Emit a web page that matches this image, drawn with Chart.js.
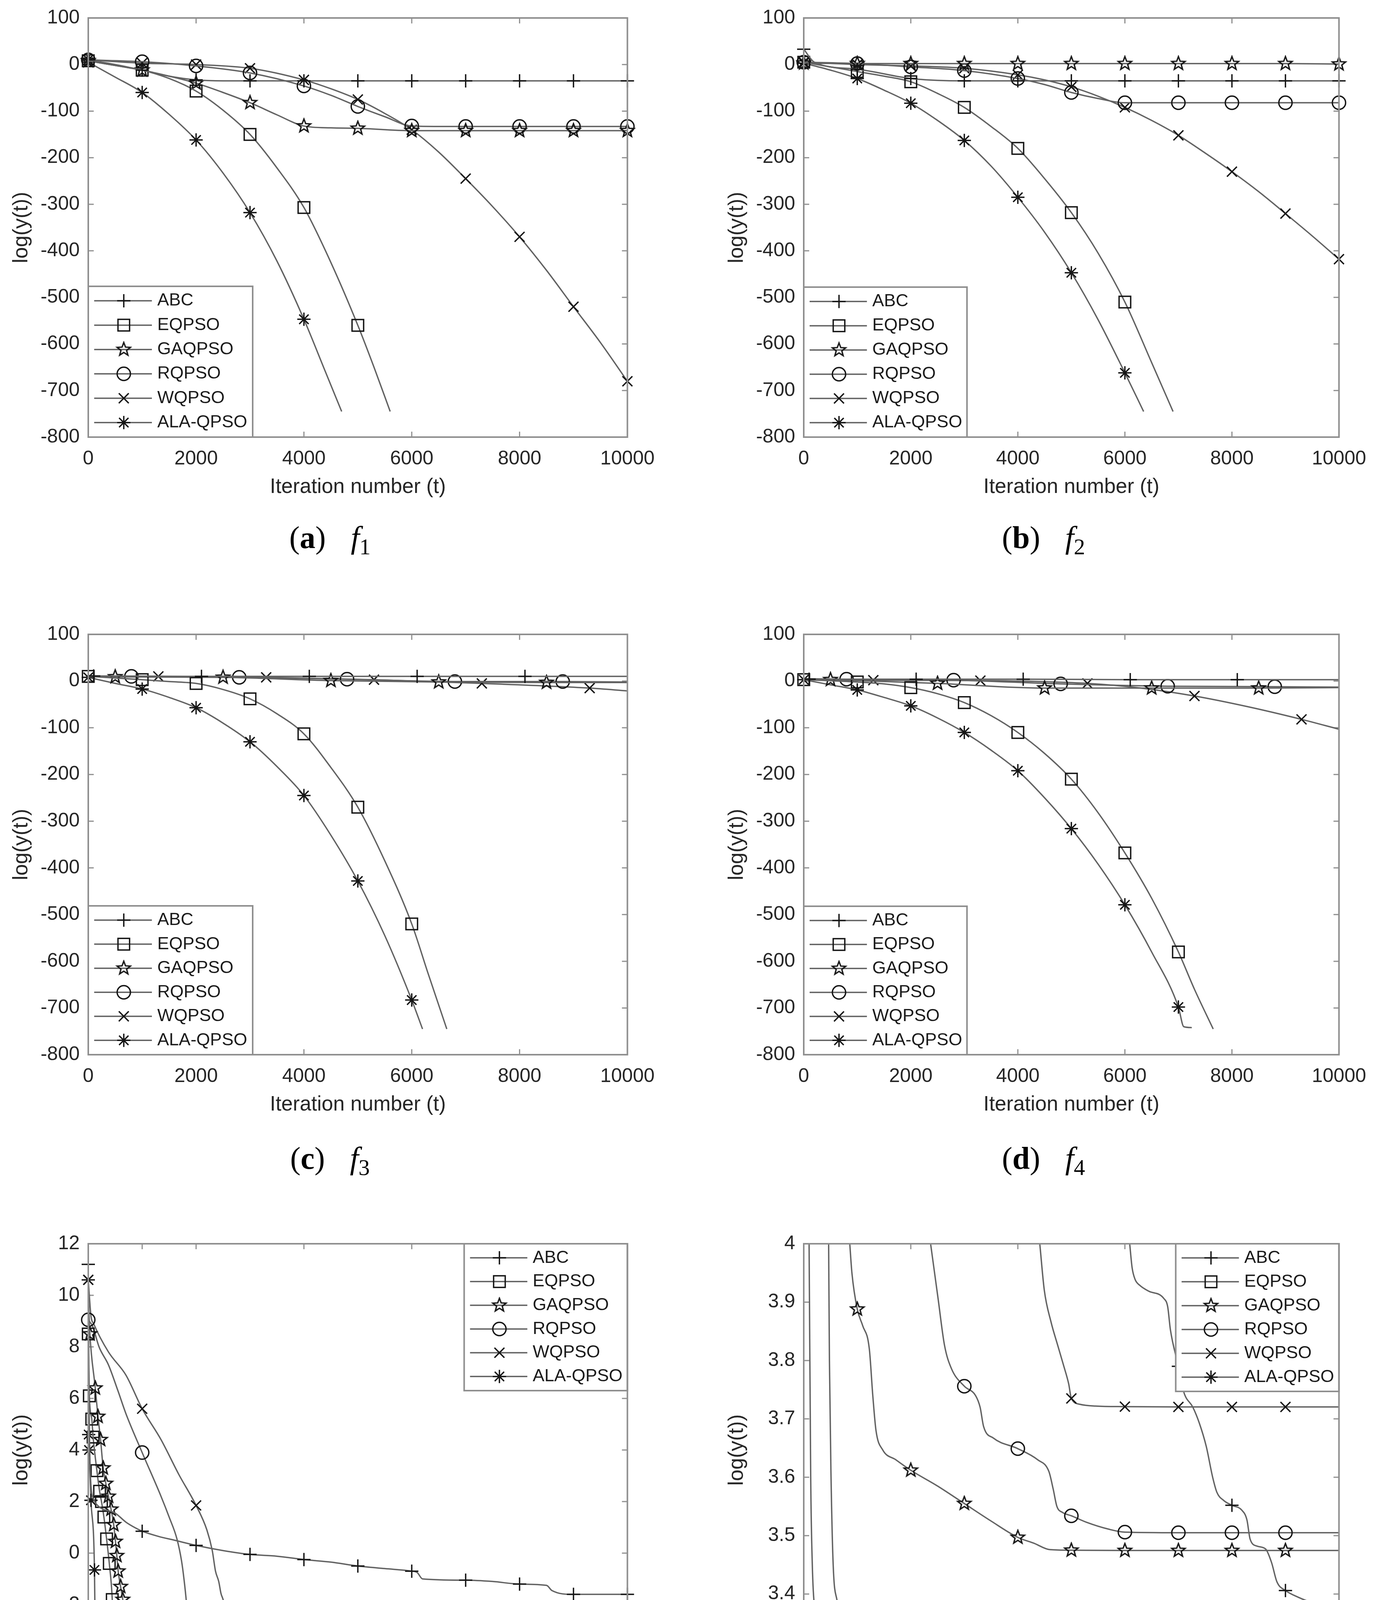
<!DOCTYPE html>
<html>
<head>
<meta charset="utf-8">
<script src="https://cdn.jsdelivr.net/npm/chart.js@4.4.1/dist/chart.umd.min.js"></script>
<style>
  html, body { margin: 0; padding: 0; background: #fff; }
  #page { position: relative; width: 3554px; height: 4619px; overflow: hidden; background: #fff; }
  #page canvas { position: absolute; }
  .cap { position: absolute; font-family: "Liberation Serif", "Times New Roman", serif; font-size: 80px;
         line-height: 80px; white-space: nowrap; color: #000; transform: translateX(-50%); }
  .cap i { margin-left: 0.8em; }
  .cap sub { font-size: 0.72em; vertical-align: -0.28em; line-height: 0; }
</style>
</head>
<body>
<div id="page"></div>
<script>
// ---- data ----
const seriesNames = ['ABC', 'EQPSO', 'GAQPSO', 'RQPSO', 'WQPSO', 'ALA-QPSO'];
const xTicksMain = [0, 2000, 4000, 6000, 8000, 10000];
const xTicksF5 = [0, 1000, 2000, 4000, 6000, 8000, 10000];
const yTicksWide = [-800, -700, -600, -500, -400, -300, -200, -100, 0, 100];
const yTicksF5 = [-4, -2, 0, 2, 4, 6, 8, 10, 12];
const yTicksF6 = [3.3, 3.4, 3.5, 3.6, 3.7, 3.8, 3.9, 4.0];

// marker positions (iteration numbers)
const mk1000 = [0, 1000, 2000, 3000, 4000, 5000, 6000, 7000, 8000, 9000, 10000];
const mkOff100 = [100, 2100, 4100, 6100, 8100];
const mkOff500 = [500, 2500, 4500, 6500, 8500];
const mkOff800 = [800, 2800, 4800, 6800, 8800];
const mkOff1300 = [1300, 3300, 5300, 7300, 9300];

// f1
const f1ABC = [[0,10],[500,0],[1000,-12],[1500,-25],[2000,-33],[2500,-35],[3000,-35],[4000,-35],[5000,-35],[6000,-35],[7000,-35],[8000,-35],[9000,-35],[10000,-35]];
const f1EQPSO = [[0,8],[500,-2],[1000,-12],[1500,-30],[2000,-57],[2500,-98],[3000,-150],[3500,-222],[4000,-307],[4500,-425],[5000,-560],[5300,-650],[5600,-745]];
const f1GAQPSO = [[0,8],[500,-2],[1000,-12],[1500,-25],[2000,-40],[2500,-60],[3000,-82],[3500,-108],[4000,-132],[4500,-136],[5000,-137],[6000,-142],[7000,-142],[8000,-142],[9000,-142],[10000,-142]];
const f1RQPSO = [[0,10],[1000,6],[2000,-3],[3000,-18],[4000,-46],[4500,-66],[5000,-90],[5500,-112],[6000,-132],[6500,-133],[7000,-133],[8000,-133],[9000,-133],[10000,-133]];
const f1WQPSO = [[0,10],[1000,3],[2000,0],[3000,-8],[4000,-33],[4500,-52],[5000,-75],[5500,-105],[6000,-140],[6500,-188],[7000,-245],[7500,-305],[8000,-370],[8500,-442],[9000,-520],[9500,-597],[10000,-680]];
const f1ALA = [[0,5],[500,-27],[1000,-60],[1500,-107],[2000,-162],[2500,-233],[3000,-318],[3500,-422],[4000,-547],[4400,-660],[4700,-745]];

// f2
const f2ABC = [[0,33],[200,5],[1000,-10],[2000,-30],[2500,-34],[3000,-35],[4000,-35],[5000,-35],[6000,-35],[7000,-35],[8000,-35],[9000,-35],[10000,-35]];
const f2EQPSO = [[0,5],[500,-5],[1000,-15],[1500,-25],[2000,-37],[2500,-62],[3000,-92],[3500,-133],[4000,-180],[4500,-245],[5000,-318],[5500,-405],[6000,-510],[6500,-640],[6900,-745]];
const f2GAQPSO = [[0,3],[1000,2],[2000,2],[3000,2],[4000,2],[5000,2],[6000,2],[7000,2],[8000,2],[9000,2],[10000,1]];
const f2RQPSO = [[0,5],[1000,2],[2000,-5],[3000,-13],[4000,-30],[4500,-43],[5000,-60],[5500,-73],[6000,-82],[7000,-82],[8000,-82],[9000,-82],[10000,-82]];
const f2WQPSO = [[0,5],[1000,0],[2000,-3],[3000,-8],[4000,-22],[4500,-33],[5000,-48],[5500,-68],[6000,-92],[6500,-120],[7000,-152],[7500,-190],[8000,-230],[8500,-273],[9000,-320],[9500,-368],[10000,-418]];
const f2ALA = [[0,3],[500,-12],[1000,-30],[1500,-55],[2000,-83],[2500,-120],[3000,-163],[3500,-218],[4000,-285],[4500,-360],[5000,-447],[5500,-548],[6000,-662],[6350,-745]];

// f3
const f3ABC = [[0,12],[100,11],[2100,10],[4100,10],[6100,10],[8100,10],[10000,10]];
const f3EQPSO = [[0,10],[1000,3],[1500,-1],[2000,-5],[2500,-18],[3000,-38],[3500,-70],[4000,-113],[4500,-185],[5000,-270],[5500,-385],[6000,-520],[6300,-625],[6650,-745]];
const f3GAQPSO = [[0,10],[500,9],[2500,8],[4500,1],[6500,-2],[8500,-3],[10000,-3]];
const f3RQPSO = [[0,10],[800,10],[2800,8],[4800,4],[6800,-1],[8800,-1],[10000,-2]];
const f3WQPSO = [[0,10],[1300,10],[3300,8],[5300,3],[7300,-5],[9300,-15],[10000,-21]];
const f3ALA = [[0,8],[500,-5],[1000,-17],[1500,-35],[2000,-57],[2500,-90],[3000,-130],[3500,-183],[4000,-245],[4500,-330],[5000,-428],[5500,-545],[6000,-683],[6200,-745]];

// f4
const f4ABC = [[0,5],[100,4],[2100,4],[4100,4],[6100,3],[8100,3],[10000,3]];
const f4EQPSO = [[0,3],[1000,-2],[1500,-6],[2000,-14],[2500,-27],[3000,-46],[3500,-74],[4000,-110],[4500,-155],[5000,-210],[5500,-282],[6000,-368],[6500,-465],[7000,-580],[7300,-660],[7650,-745]];
const f4GAQPSO = [[0,5],[500,3],[2500,-5],[4500,-15],[6500,-15],[8500,-15],[10000,-14]];
const f4RQPSO = [[0,5],[800,4],[2800,2],[4800,-6],[6800,-11],[8800,-12],[10000,-13]];
const f4WQPSO = [[0,5],[1300,2],[3300,1],[5300,-5],[6300,-15],[7300,-32],[8300,-55],[9300,-82],[10000,-103]];
const f4ALA = [[0,3],[500,-8],[1000,-19],[1500,-35],[2000,-53],[2500,-79],[3000,-110],[3500,-148],[4000,-192],[4500,-250],[5000,-316],[5500,-392],[6000,-479],[6500,-580],[7000,-698],[7100,-740],[7250,-742]];

// f5
const f5ABC = [[0,11.2],[15,6],[40,3],[100,2.1],[200,1.8],[500,1.55],[700,1.2],[900,0.95],[1000,0.85],[1300,0.65],[1600,0.5],[2000,0.3],[2500,0.1],[3000,-0.05],[3500,-0.12],[4000,-0.25],[4500,-0.35],[5000,-0.5],[5500,-0.6],[6000,-0.7],[6100,-0.75],[6200,-1.0],[7000,-1.05],[7500,-1.1],[8000,-1.2],[8500,-1.25],[8600,-1.45],[9000,-1.6],[10000,-1.6]];
const f5EQPSO = [[0,8.5],[20,6.1],[65,5.2],[90,4.5],[160,3.2],[210,2.4],[245,2.0],[290,1.4],[340,0.55],[390,-0.4],[445,-1.8],[470,-3.4]];
const f5GAQPSO = [[0,10],[30,8.5],[130,6.4],[180,5.3],[228,4.4],[277,3.3],[326,2.7],[375,2.2],[423,1.7],[472,1.1],[505,0.45],[530,-0.1],[555,-0.7],[600,-1.3],[640,-1.8],[668,-2.3],[725,-3.4]];
const f5RQPSO = [[0,9.05],[80,8.8],[200,8.0],[375,7.3],[550,6.3],[700,5.4],[1000,3.9],[1350,2.2],[1500,1.4],[1645,0.55],[1730,-0.3],[1775,-1.0],[1820,-1.9],[1850,-2.8],[1860,-3.4]];
const f5WQPSO = [[0,10.6],[50,9.2],[100,8.9],[375,7.8],[700,6.9],[1000,5.6],[1350,4.4],[1680,3.05],[2000,1.85],[2200,0.9],[2300,0.1],[2360,-0.7],[2420,-1.1],[2460,-1.55],[2520,-2.0],[2550,-2.7],[2600,-2.75],[2620,-3.4],[2770,-3.4]];
const f5ALA = [[0,10.6],[8,4.6],[14,4.0],[50,2.05],[115,-0.65],[130,-3.4]];
const f5mkEQPSO = [0,20,65,90,160,210,245,290,340,390,445];
const f5mkGAQPSO = [30,130,180,228,277,326,375,423,472,505,530,555,600,640,668,725];
const f5mkRQPSO = [0,1000];
const f5mkWQPSO = [0,1000,2000];
const f5mkALA = [0,8,14,50,115];

// f6
const f6ABC = [[6090,4.0],[6135,3.959],[6190,3.939],[6275,3.929],[6440,3.919],[6730,3.906],[6800,3.892],[6850,3.853],[7000,3.79],[7100,3.746],[7270,3.72],[7390,3.693],[7520,3.653],[7640,3.60],[7720,3.574],[7850,3.56],[8000,3.552],[8180,3.544],[8280,3.527],[8340,3.494],[8470,3.482],[8630,3.477],[8740,3.454],[8840,3.421],[9000,3.406],[9250,3.394],[9590,3.381],[9830,3.368],[9930,3.348],[10000,3.331]];
const f6EQPSO = [[465,4.0],[480,3.8],[510,3.6],[550,3.45],[620,3.39],[700,3.37],[900,3.352],[1000,3.346],[1500,3.335],[2000,3.329],[3000,3.323],[4000,3.319],[5000,3.316],[6000,3.314],[7000,3.311],[8000,3.31],[9000,3.309],[10000,3.307]];
const f6GAQPSO = [[860,4.0],[900,3.95],[1000,3.888],[1100,3.86],[1225,3.82],[1290,3.74],[1350,3.68],[1475,3.647],[1720,3.63],[2000,3.612],[2500,3.585],[3000,3.555],[3500,3.525],[4000,3.497],[4300,3.487],[4600,3.476],[5000,3.475],[6000,3.4745],[7000,3.4745],[8000,3.4745],[9000,3.4745],[10000,3.4745]];
const f6RQPSO = [[2370,4.0],[2510,3.906],[2630,3.826],[2760,3.786],[3000,3.756],[3210,3.74],[3295,3.72],[3360,3.687],[3545,3.667],[4000,3.649],[4370,3.63],[4580,3.61],[4660,3.58],[4730,3.55],[4830,3.54],[5000,3.534],[5280,3.523],[5700,3.511],[6000,3.506],[7000,3.505],[8000,3.505],[9000,3.505],[10000,3.505]];
const f6WQPSO = [[4410,4.0],[4495,3.92],[4620,3.866],[4745,3.826],[4850,3.793],[4950,3.76],[5000,3.735],[5160,3.725],[5450,3.722],[6000,3.721],[7000,3.7205],[8000,3.7205],[9000,3.7205],[10000,3.7205]];
const f6ALA = [[100,4.0],[130,3.6],[160,3.45],[200,3.38],[300,3.355],[550,3.34],[1000,3.325],[1500,3.316],[2000,3.311],[3000,3.307],[4000,3.305],[5000,3.304],[6000,3.304],[7000,3.3035],[8000,3.3035],[9000,3.3035],[10000,3.3035]];
const f6mkABC = [7000, 8000, 9000, 10000];
const f6mkRQPSO = [3000, 4000, 5000, 6000, 7000, 8000, 9000];
const f6mkWQPSO = [5000, 6000, 7000, 8000, 9000];
const f6mk = [1000, 2000, 3000, 4000, 5000, 6000, 7000, 8000, 9000];

// ---- styling ----
const FONT = '"Liberation Sans", Arial, Helvetica, sans-serif';
const TXT = '#262626';
const LINE = '#626262';
const MARK = '#151515';
const BOX = '#8f8f8f';
const YW = 226, PADT = 50, PADR = 90, XH = 190;

function makePentagram(r, lw, color) {
    var c = document.createElement('canvas');
    var s = Math.ceil(2 * r + 2 * lw);
    c.width = s; c.height = s;
    var g = c.getContext('2d');
    g.strokeStyle = color;
    g.lineWidth = lw;
    g.beginPath();
    for (var k = 0; k < 10; k++) {
        var rr = k % 2 === 0 ? r : r * 0.42;
        var a = -Math.PI / 2 + k * Math.PI / 5;
        var px = s / 2 + rr * Math.cos(a), py = s / 2 + rr * Math.sin(a);
        if (k === 0) g.moveTo(px, py); else g.lineTo(px, py);
    }
    g.closePath();
    g.stroke();
    return c;
}

const markerStyles = ['cross', 'rect', makePentagram(18, 3.5, MARK), 'circle', 'crossRot', 'star'];
const markerSizes = [17, 21, 17, 17, 18, 17];

// same shapes as Chart.js point styles, for the legend samples
function drawMarker(g, style, x, y, r) {
    if (typeof style !== 'string') {
        g.drawImage(style, x - style.width / 2, y - style.height / 2);
        return;
    }
    var d = r * Math.SQRT1_2;
    g.beginPath();
    if (style === 'cross' || style === 'star') {
        g.moveTo(x - r, y); g.lineTo(x + r, y);
        g.moveTo(x, y - r); g.lineTo(x, y + r);
    }
    if (style === 'crossRot' || style === 'star') {
        g.moveTo(x - d, y - d); g.lineTo(x + d, y + d);
        g.moveTo(x - d, y + d); g.lineTo(x + d, y - d);
    }
    if (style === 'rect') g.rect(x - d, y - d, 2 * d, 2 * d);
    if (style === 'circle') g.arc(x, y, r, 0, Math.PI * 2);
    g.stroke();
}

// MATLAB-like box with inward ticks on all four sides
const matlabBox = {
    id: 'matlabBox',
    beforeDatasetsDraw(chart) {
        var ctx = chart.ctx, a = chart.chartArea, sx = chart.scales.x, sy = chart.scales.y;
        ctx.save();
        ctx.strokeStyle = BOX;
        ctx.lineWidth = 3;
        ctx.beginPath();
        sx.ticks.forEach(function (t) {
            var px = sx.getPixelForValue(t.value);
            ctx.moveTo(px, a.bottom); ctx.lineTo(px, a.bottom - 14);
            ctx.moveTo(px, a.top); ctx.lineTo(px, a.top + 14);
        });
        sy.ticks.forEach(function (t) {
            var py = sy.getPixelForValue(t.value);
            ctx.moveTo(a.left, py); ctx.lineTo(a.left + 14, py);
            ctx.moveTo(a.right, py); ctx.lineTo(a.right - 14, py);
        });
        ctx.stroke();
        ctx.restore();
    },
    afterDraw(chart) {
        var ctx = chart.ctx, a = chart.chartArea;
        ctx.save();
        ctx.strokeStyle = BOX;
        ctx.lineWidth = 4;
        ctx.strokeRect(a.left, a.top, a.right - a.left, a.bottom - a.top);
        ctx.restore();
    }
};

const matlabLegend = {
    id: 'matlabLegend',
    afterDatasetsDraw(chart, args, opts) {
        var ctx = chart.ctx, a = chart.chartArea;
        var w = opts.w, h = opts.h;
        var x0 = opts.corner === 'tr' ? a.right - w : a.left;
        var y0 = opts.corner === 'tr' ? a.top : a.bottom - h;
        ctx.save();
        ctx.fillStyle = '#fff';
        ctx.fillRect(x0, y0, w, h);
        ctx.strokeStyle = BOX;
        ctx.lineWidth = 4;
        ctx.strokeRect(x0, y0, w, h);
        ctx.font = '45px ' + FONT;
        ctx.textBaseline = 'middle';
        chart.data.datasets.forEach(function (ds, i) {
            var yy = y0 + h * 0.096 + i * h * 0.1615;
            ctx.strokeStyle = ds.borderColor;
            ctx.lineWidth = ds.borderWidth;
            ctx.beginPath();
            ctx.moveTo(x0 + w * 0.036, yy);
            ctx.lineTo(x0 + w * 0.387, yy);
            ctx.stroke();
            ctx.strokeStyle = ds.pointBorderColor;
            ctx.lineWidth = ds.pointBorderWidth;
            drawMarker(ctx, ds.pointStyle, x0 + w * 0.216, yy, ds.markerSize);
            ctx.fillStyle = '#1a1a1a';
            ctx.fillText(ds.label, x0 + w * 0.42, yy);
        });
        ctx.restore();
    }
};

// ---- panels ----
const panels = [
    { tag: 'a', fn: '1', left: 226, top: 44, w: 1386, h: 1075, yMin: -800, yMax: 100, yTicks: yTicksWide, xTicks: xTicksMain,
      series: [f1ABC, f1EQPSO, f1GAQPSO, f1RQPSO, f1WQPSO, f1ALA], marks: [mk1000, mk1000, mk1000, mk1000, mk1000, mk1000],
      legend: { corner: 'bl', w: 421, h: 386 }, capBase: 1403 },
    { tag: 'b', fn: '2', left: 2058, top: 44, w: 1376, h: 1075, yMin: -800, yMax: 100, yTicks: yTicksWide, xTicks: xTicksMain,
      series: [f2ABC, f2EQPSO, f2GAQPSO, f2RQPSO, f2WQPSO, f2ALA], marks: [mk1000, mk1000, mk1000, mk1000, mk1000, mk1000],
      legend: { corner: 'bl', w: 418, h: 384 }, capBase: 1403 },
    { tag: 'c', fn: '3', left: 226, top: 1622, w: 1386, h: 1078, yMin: -800, yMax: 100, yTicks: yTicksWide, xTicks: xTicksMain,
      series: [f3ABC, f3EQPSO, f3GAQPSO, f3RQPSO, f3WQPSO, f3ALA], marks: [mkOff100, mk1000, mkOff500, mkOff800, mkOff1300, mk1000],
      legend: { corner: 'bl', w: 421, h: 381 }, capBase: 2992 },
    { tag: 'd', fn: '4', left: 2058, top: 1622, w: 1376, h: 1078, yMin: -800, yMax: 100, yTicks: yTicksWide, xTicks: xTicksMain,
      series: [f4ABC, f4EQPSO, f4GAQPSO, f4RQPSO, f4WQPSO, f4ALA], marks: [mkOff100, mk1000, mkOff500, mkOff800, mkOff1300, mk1000],
      legend: { corner: 'bl', w: 418, h: 380 }, capBase: 2992 },
    { tag: 'e', fn: '5', left: 226, top: 3182, w: 1386, h: 1058, yMin: -4, yMax: 12, yTicks: yTicksF5, xTicks: xTicksF5,
      series: [f5ABC, f5EQPSO, f5GAQPSO, f5RQPSO, f5WQPSO, f5ALA], marks: [mk1000, f5mkEQPSO, f5mkGAQPSO, f5mkRQPSO, f5mkWQPSO, f5mkALA],
      legend: { corner: 'tr', w: 418, h: 376 }, capBase: 4532 },
    { tag: 'f', fn: '6', left: 2058, top: 3182, w: 1376, h: 1058, yMin: 3.2934, yMax: 4, yTicks: yTicksF6, xTicks: xTicksMain,
      series: [f6ABC, f6EQPSO, f6GAQPSO, f6RQPSO, f6WQPSO, f6ALA], marks: [f6mkABC, f6mk, f6mk, f6mkRQPSO, f6mkWQPSO, f6mk],
      legend: { corner: 'tr', w: 418, h: 378 }, capBase: 4532 }
];

const page = document.getElementById('page');

function buildPanel(p) {
    var cv = document.createElement('canvas');
    var cw = YW + p.w + PADR, ch = PADT + p.h + XH;
    cv.width = cw; cv.height = ch;
    cv.style.width = cw + 'px'; cv.style.height = ch + 'px';
    cv.style.left = (p.left - YW) + 'px';
    cv.style.top = (p.top - PADT) + 'px';
    page.appendChild(cv);

    new Chart(cv, {
        type: 'line',
        data: {
            datasets: p.series.map(function (d, i) {
                return {
                    label: seriesNames[i],
                    data: d,
                    borderColor: LINE,
                    borderWidth: 3.5,
                    fill: false,
                    cubicInterpolationMode: 'monotone',
                    pointStyle: markerStyles[i],
                    markerSize: markerSizes[i],
                    pointRadius: function (c) {
                        if (!c.raw) return markerSizes[i];
                        return p.marks[i].indexOf(c.raw[0]) >= 0 ? markerSizes[i] : 0;
                    },
                    pointHoverRadius: 0,
                    pointBorderColor: MARK,
                    pointBorderWidth: 3.5,
                    pointBackgroundColor: 'rgba(0,0,0,0)',
                    clip: 24
                };
            })
        },
        options: {
            responsive: false,
            animation: false,
            devicePixelRatio: 1,
            events: [],
            layout: { padding: { top: PADT, right: PADR, left: 0, bottom: 0 } },
            plugins: {
                legend: { display: false },
                tooltip: { enabled: false },
                matlabLegend: p.legend
            },
            scales: {
                x: {
                    type: 'linear',
                    min: 0,
                    max: 10000,
                    afterBuildTicks: function (s) { s.ticks = p.xTicks.map(function (v) { return { value: v }; }); },
                    afterFit: function (s) { s.height = XH; },
                    grid: { display: false, drawTicks: false },
                    border: { display: false },
                    ticks: {
                        font: { family: FONT, size: 50 }, color: TXT, padding: 26,
                        maxRotation: 0, autoSkip: false,
                        callback: function (v) { return String(v); }
                    },
                    title: {
                        display: true, text: 'Iteration number (t)',
                        font: { family: FONT, size: 53 }, color: TXT,
                        padding: { top: 0, bottom: 30 }
                    }
                },
                y: {
                    type: 'linear',
                    min: p.yMin,
                    max: p.yMax,
                    afterBuildTicks: function (s) { s.ticks = p.yTicks.map(function (v) { return { value: v }; }); },
                    afterFit: function (s) { s.width = YW; },
                    grid: { display: false, drawTicks: false },
                    border: { display: false },
                    ticks: {
                        font: { family: FONT, size: 50 }, color: TXT, padding: 22,
                        autoSkip: false,
                        callback: function (v) { return String(+Number(v).toFixed(2)); }
                    },
                    title: {
                        display: true, text: 'log(y(t))',
                        font: { family: FONT, size: 53 }, color: TXT,
                        padding: { top: 24, bottom: 0 }
                    }
                }
            }
        },
        plugins: [matlabBox, matlabLegend]
    });

    var cap = document.createElement('div');
    cap.className = 'cap';
    cap.style.left = (p.left + p.w / 2 - 74) + 'px';
    cap.style.top = (p.capBase - 67) + 'px';
    cap.innerHTML = '(<b>' + p.tag + '</b>)<i>f</i><sub>' + p.fn + '</sub>';
    page.appendChild(cap);
}

window.onload = function () {
    panels.forEach(buildPanel);
};
</script>
</body>
</html>
